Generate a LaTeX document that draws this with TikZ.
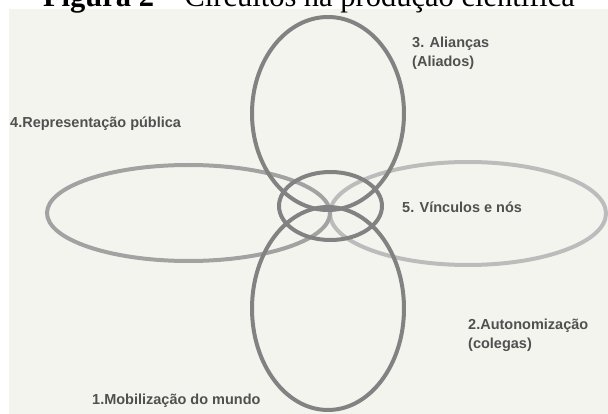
\documentclass[tikz,border=0pt]{standalone}
\usepackage{fontspec}
\setmainfont{Liberation Serif}
\setsansfont{Liberation Sans}
\usepackage{xcolor}
\usepackage{tikz}
\definecolor{fundo}{HTML}{F4F4EF}
\definecolor{aneldark}{HTML}{828282}
\definecolor{anelmid}{HTML}{A2A2A2}
\definecolor{anellight}{HTML}{BCBCBC}
\definecolor{textorot}{HTML}{505050}

\begin{document}
\begin{tikzpicture}[x=1pt,y=-1pt,
  anel/.style={line width=4pt},
  rotulo/.style={font=\sffamily\bfseries\fontsize{14.5}{19}\selectfont,text=textorot,anchor=base west,inner sep=0pt,align=left}]
\clip (0,0) rectangle (608,414);
\fill[white] (0,0) rectangle (608,414);
\fill[fundo] (9,9) rectangle (608,414);

% Title (cut at the top)
\node[anchor=base,inner sep=0pt,font=\fontsize{30.5}{34}\selectfont] (titulo) at (309,7) {\textbf{Figura 2} -- Circuitos na produção científica};

% Horizontal rings
\draw[anel,anellight] (468,213.5) ellipse [x radius=138pt,y radius=51.5pt];
\draw[anel,anelmid] (188.5,213) ellipse [x radius=141.5pt,y radius=48pt];

% Vertical rings
\draw[anel,aneldark] (328,113.5) ellipse [x radius=76pt,y radius=96.5pt];
\draw[anel,aneldark] (328,308.5) ellipse [x radius=76pt,y radius=101.5pt];

% Central ring
\draw[anel,aneldark] (330.5,206) ellipse [x radius=51.5pt,y radius=34pt];

% Labels (base = last line)
\node[rotulo] (mobilizacao) at (92,404) {1.Mobilização do mundo};
\node[rotulo] (autonomizacao) at (468,348) {2.Autonomização\\(colegas)};
\node[rotulo] (aliancas) at (412,67) {3. Alianças\\(Aliados)};
\node[rotulo] (representacao) at (10,128) {4.Representação pública};
\node[rotulo] (vinculos) at (402,213) {5. Vínculos e nós};
\end{tikzpicture}
\end{document}
